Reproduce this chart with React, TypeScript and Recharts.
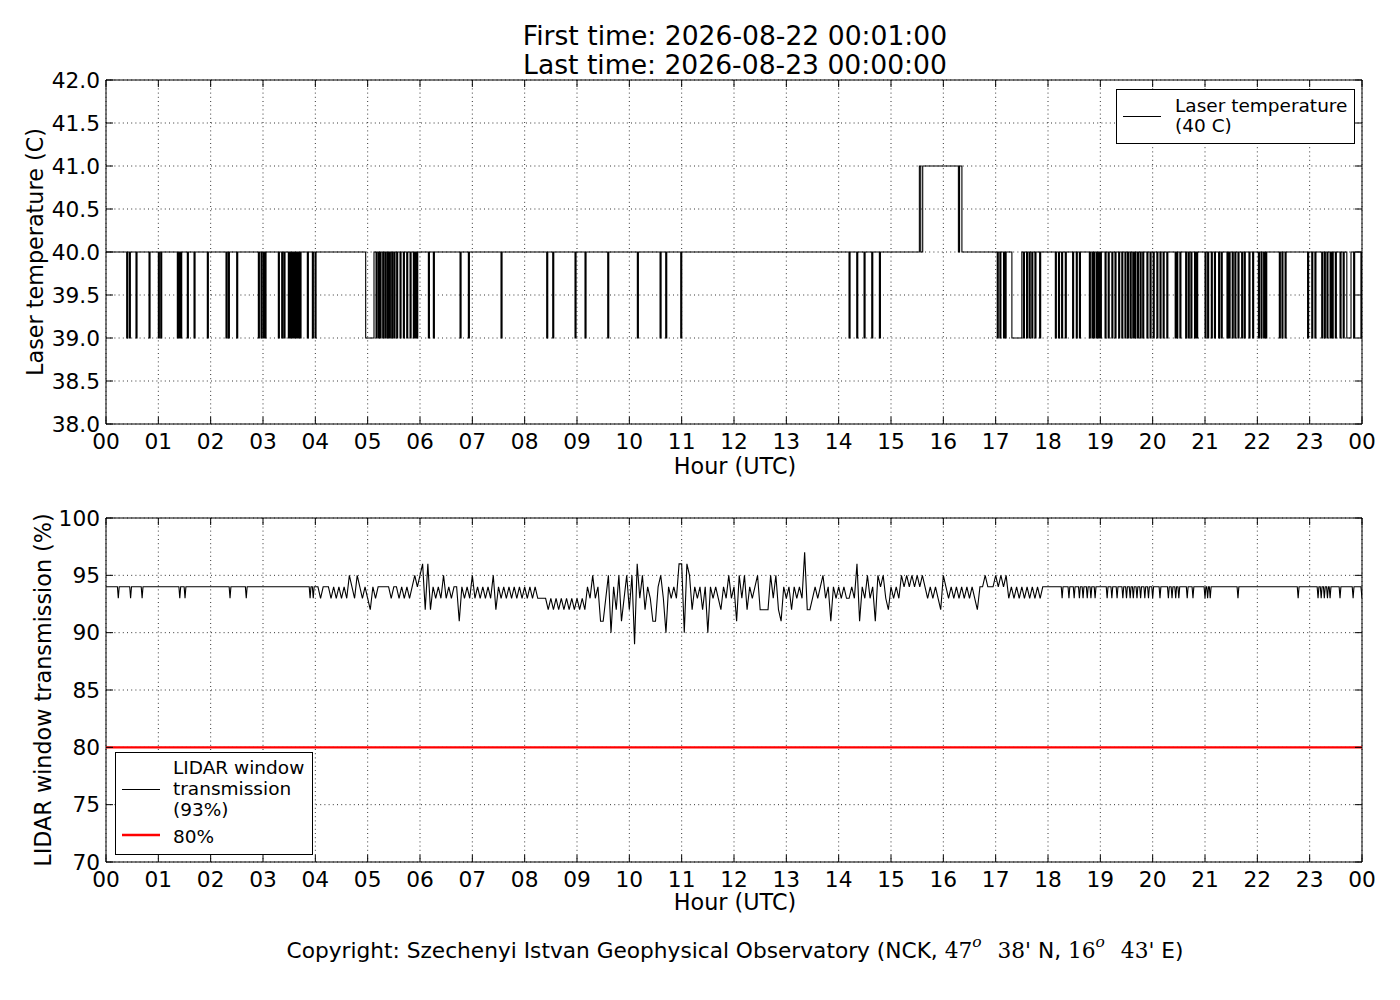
import React from 'react';
import { LineChart, Line, XAxis, YAxis, CartesianGrid, ReferenceArea } from 'recharts';

const FONT = '"DejaVu Sans", Verdana, sans-serif';
const SERIF = '"DejaVu Serif", serif';

// ---------- tick values / labels ----------
const hourTicks = [0, 1, 2, 3, 4, 5, 6, 7, 8, 9, 10, 11, 12, 13, 14, 15, 16, 17, 18, 19, 20, 21, 22, 23, 24];
const hourLabels = ['00', '01', '02', '03', '04', '05', '06', '07', '08', '09', '10', '11', '12', '13', '14', '15', '16', '17', '18', '19', '20', '21', '22', '23', '00'];
const tempTicks = [38, 38.5, 39, 39.5, 40, 40.5, 41, 41.5, 42];
const tempTickLabels = ['38.0', '38.5', '39.0', '39.5', '40.0', '40.5', '41.0', '41.5', '42.0'];
const lidarTicks = [70, 75, 80, 85, 90, 95, 100];
const lidarTickLabels = ['70', '75', '80', '85', '90', '95', '100'];

// ---------- laser temperature (hours UTC) ----------
const tempBase = 40;
const tempLow = 39;
// single-minute drops from 40 to 39 C
const tempDips = [
  0.395, 0.446, 0.573, 0.822, 1.0, 1.045, 1.363, 1.395, 1.427, 1.554, 1.682, 1.936,
  2.293, 2.338, 2.497, 2.911, 2.962, 3.006, 3.038, 3.293, 3.357, 3.401, 3.484, 3.516,
  3.548, 3.58, 3.611, 3.643, 3.675, 3.707, 3.847, 3.943, 3.994,
  5.16, 5.205, 5.236, 5.287, 5.332, 5.376, 5.414, 5.459, 5.503, 5.554, 5.618, 5.682,
  5.746, 5.81, 5.873, 5.905, 5.937, 6.16, 6.255, 6.765, 6.924, 7.548,
  8.421, 8.536, 8.962, 9.153, 9.587, 10.153, 10.587, 10.695, 10.982,
  14.198, 14.345, 14.485, 14.632, 14.778,
  17.03, 17.08, 17.15, 17.18, 17.53, 17.59, 17.64, 17.69, 17.75, 17.84,
  18.14, 18.2, 18.26, 18.33, 18.47, 18.54, 18.6, 18.79, 18.84, 18.87, 18.92, 18.96, 19.0,
  19.09, 19.15, 19.22, 19.28, 19.35, 19.41, 19.47, 19.52, 19.57, 19.62, 19.66, 19.71,
  19.76, 19.81, 19.89, 19.95, 20.01, 20.08, 20.14, 20.2, 20.27, 20.43,
  20.46, 20.52, 20.63, 20.68, 20.73, 20.8, 20.84, 21.0, 21.05, 21.12, 21.18, 21.26, 21.31,
  21.42, 21.46, 21.52, 21.57, 21.63, 21.7, 21.75, 21.84, 21.91, 22.02, 22.07, 22.12, 22.16,
  22.42, 22.47, 22.53, 22.96, 23.04, 23.1, 23.23, 23.28, 23.33, 23.39, 23.43, 23.49,
  23.58, 23.64, 23.84, 23.98,
];
// longer periods at 39 C: [start, end]
const tempLowBlocks = [
  [4.962, 5.121],
  [17.31, 17.5],
  [23.71, 23.79],
];
// excursion to 41 C: [hour, value]
const tempHighSteps = [
  [15.542, 41],
  [15.568, 40],
  [15.606, 41],
  [16.288, 40],
  [16.31, 41],
  [16.355, 40],
];

// ---------- LIDAR window transmission (%) ----------
const lidarBase = 94;
const lidarDipValue = 93;
const lidarEarlyDips = [0.235, 0.47, 0.69, 1.41, 1.51, 2.37, 2.68, 3.9, 3.96];
// 3-minute readings, each list starts at the full hour
const lidarNoise04 = [94, 94, 93, 94, 94, 94, 93, 94, 93, 94, 93, 94, 93, 95, 94, 93, 95, 94, 93, 94];
const lidarNoise05 = [93, 92, 94, 93, 94, 94, 94, 94, 94, 93, 94, 94, 93, 94, 93, 94, 93, 94, 95, 94];
const lidarNoise06 = [95, 96, 92, 96, 92, 94, 93, 94, 93, 95, 93, 94, 93, 94, 94, 91, 94, 93, 94, 93];
const lidarNoise07 = [95, 93, 94, 93, 94, 93, 94, 93, 95, 92, 94, 93, 94, 93, 94, 93, 94, 93, 94, 93];
const lidarNoise08 = [94, 93, 94, 93, 94, 93, 93, 93, 93, 92, 93, 92, 93, 92, 93, 92, 93, 92, 93, 92];
const lidarNoise09 = [93, 92, 93, 92, 94, 93, 95, 93, 94, 91, 91, 93, 95, 90, 94, 92, 95, 91, 93, 95];
const lidarNoise10 = [92, 95, 89, 96, 93, 95, 92, 94, 93, 91, 91, 94, 95, 93, 90, 94, 93, 94, 93, 96];
const lidarNoise11 = [96, 90, 96, 95, 92, 94, 93, 94, 92, 94, 90, 94, 93, 94, 93, 92, 94, 93, 95, 93];
const lidarNoise12 = [94, 91, 95, 93, 95, 92, 94, 93, 94, 95, 92, 92, 92, 92, 95, 93, 95, 92, 91, 94];
const lidarNoise13 = [93, 94, 92, 94, 93, 94, 93, 97, 92, 92, 93, 94, 93, 94, 95, 93, 94, 91, 94, 93];
const lidarNoise14 = [94, 93, 94, 93, 93, 94, 93, 96, 91, 94, 93, 95, 93, 94, 91, 95, 94, 95, 93, 92];
const lidarNoise15 = [94, 93, 94, 93, 95, 94, 95, 94, 95, 94, 95, 94, 95, 94, 93, 94, 93, 94, 93, 92];
const lidarNoise16 = [95, 94, 93, 94, 93, 94, 93, 94, 93, 94, 93, 94, 93, 92, 94, 94, 95, 94, 94, 94];
const lidarNoise17 = [95, 94, 95, 94, 95, 93, 94, 93, 94, 93, 94, 93, 94, 93, 94, 93, 94, 93, 94, 94];
const lidarNoiseHours = [4, 5, 6, 7, 8, 9, 10, 11, 12, 13, 14, 15, 16, 17];
const lidarNoiseLists = [
  lidarNoise04, lidarNoise05, lidarNoise06, lidarNoise07, lidarNoise08, lidarNoise09, lidarNoise10,
  lidarNoise11, lidarNoise12, lidarNoise13, lidarNoise14, lidarNoise15, lidarNoise16, lidarNoise17,
];
const lidarLateDips = [
  18.27, 18.4, 18.5, 18.6, 18.67, 18.75, 18.82, 18.9, 19.13, 19.22, 19.32, 19.43, 19.5, 19.57,
  19.63, 19.7, 19.77, 19.85, 19.92, 20.0, 20.14, 20.3, 20.37, 20.44, 20.5, 20.66, 20.77, 21.0,
  21.05, 21.1, 21.63, 22.78, 23.16, 23.22, 23.28, 23.34, 23.39, 23.58, 23.83,
];
const lidarEndValue = 93;
const thresholdValue = 80;

// ---------- build series ----------
type Pt = { h: number; v: number };

function buildTemp(): Pt[] {
  const pts: Pt[] = [{ h: 0, v: tempBase }];
  tempDips.forEach((t) => {
    pts.push({ h: t, v: tempLow });
    pts.push({ h: t + 0.02, v: tempBase });
  });
  tempLowBlocks.forEach(([s, e]) => {
    pts.push({ h: s, v: tempLow });
    pts.push({ h: e, v: tempBase });
  });
  tempHighSteps.forEach(([h, v]) => pts.push({ h, v }));
  pts.sort((a, b) => a.h - b.h);
  pts.push({ h: 24, v: tempLow });
  return pts;
}

function buildLidar(): Pt[] {
  const pts: Pt[] = [{ h: 0, v: lidarBase }];
  const addDip = (t: number) => {
    pts.push({ h: t - 0.017, v: lidarBase });
    pts.push({ h: t, v: lidarDipValue });
    pts.push({ h: t + 0.017, v: lidarBase });
  };
  lidarEarlyDips.forEach(addDip);
  lidarNoiseLists.forEach((list, k) => {
    list.forEach((v, i) => pts.push({ h: lidarNoiseHours[k] + i * 0.05, v }));
  });
  pts.push({ h: 18.0, v: lidarBase });
  lidarLateDips.forEach(addDip);
  pts.push({ h: 23.98, v: lidarBase });
  pts.push({ h: 24, v: lidarEndValue });
  pts.sort((a, b) => a.h - b.h);
  return pts;
}

const tempData = buildTemp();
const lidarData = buildLidar();
const thresholdData: Pt[] = [
  { h: 0, v: thresholdValue },
  { h: 24, v: thresholdValue },
];

// ---------- layout ----------
const W = 1400;
const Y_AXIS_W = 106;
const X_AXIS_H = 50;
const PLOT_L = 106;
const PLOT_R = 1362;
const TICK_LEN = 7;
const TICK_FS = 21.7;
const LABEL_FS = 22.3;
const LEGEND_FS = 18.5;

const TOP_H = 500;
const TOP_MARGIN = { top: 80, right: W - PLOT_R, bottom: 26, left: 0 };
const TOP_PT = 80;
const TOP_PB = 424;

const BOT_OFFSET = 500;
const BOT_H = 420;
const BOT_MARGIN = { top: 18, right: W - PLOT_R, bottom: 8, left: 0 };
const BOT_PT = 18;
const BOT_PB = 362;

function makeXTick(plotTop: number, plotBottom: number) {
  return (props: any) => {
    const { x, payload } = props;
    const idx = hourTicks.indexOf(payload.value);
    return (
      <g>
        <line x1={x} y1={plotBottom} x2={x} y2={plotBottom - TICK_LEN} stroke="#000" strokeWidth={1} />
        <line x1={x} y1={plotTop} x2={x} y2={plotTop + TICK_LEN} stroke="#000" strokeWidth={1} />
        <text x={x} y={plotBottom + 17} textAnchor="middle" dominantBaseline="central" fontSize={TICK_FS} fontFamily={FONT} fill="#000">
          {hourLabels[idx]}
        </text>
      </g>
    );
  };
}

function makeYTick(ticks: number[], labels: string[]) {
  return (props: any) => {
    const { y, payload } = props;
    const idx = ticks.indexOf(payload.value);
    return (
      <g>
        <line x1={PLOT_L} y1={y} x2={PLOT_L + TICK_LEN} y2={y} stroke="#000" strokeWidth={1} />
        <line x1={PLOT_R - TICK_LEN} y1={y} x2={PLOT_R} y2={y} stroke="#000" strokeWidth={1} />
        <text x={PLOT_L - 6} y={y} textAnchor="end" dominantBaseline="central" fontSize={TICK_FS} fontFamily={FONT} fill="#000">
          {labels[idx]}
        </text>
      </g>
    );
  };
}

const gridProps = { stroke: '#000', strokeWidth: 0.8, strokeDasharray: '1 3.2' };

function TopChart() {
  return (
    <LineChart width={W} height={TOP_H} margin={TOP_MARGIN}>
      <CartesianGrid {...gridProps} />
      <XAxis type="number" dataKey="h" domain={[0, 24]} ticks={hourTicks} interval={0} height={X_AXIS_H}
        axisLine={false} tickLine={false} tickSize={0} tick={makeXTick(TOP_PT, TOP_PB)} allowDataOverflow />
      <YAxis type="number" domain={[38, 42]} ticks={tempTicks} interval={0} width={Y_AXIS_W}
        axisLine={false} tickLine={false} tickSize={0} tick={makeYTick(tempTicks, tempTickLabels)} allowDataOverflow />
      <ReferenceArea x1={0} x2={24} y1={38} y2={42} fill="none" fillOpacity={0} stroke="#000" strokeWidth={1} />
      <Line data={tempData} dataKey="v" type="stepAfter" stroke="#000" strokeWidth={1.1} dot={false}
        activeDot={false} isAnimationActive={false} />
    </LineChart>
  );
}

function BottomChart() {
  return (
    <LineChart width={W} height={BOT_H} margin={BOT_MARGIN}>
      <CartesianGrid {...gridProps} />
      <XAxis type="number" dataKey="h" domain={[0, 24]} ticks={hourTicks} interval={0} height={X_AXIS_H}
        axisLine={false} tickLine={false} tickSize={0} tick={makeXTick(BOT_PT, BOT_PB)} allowDataOverflow />
      <YAxis type="number" domain={[70, 100]} ticks={lidarTicks} interval={0} width={Y_AXIS_W}
        axisLine={false} tickLine={false} tickSize={0} tick={makeYTick(lidarTicks, lidarTickLabels)} allowDataOverflow />
      <ReferenceArea x1={0} x2={24} y1={70} y2={100} fill="none" fillOpacity={0} stroke="#000" strokeWidth={1} />
      <Line data={lidarData} dataKey="v" type="linear" stroke="#000" strokeWidth={1.1} dot={false}
        activeDot={false} isAnimationActive={false} />
      <Line data={thresholdData} dataKey="v" type="linear" stroke="#ff0000" strokeWidth={2.4} dot={false}
        activeDot={false} isAnimationActive={false} />
    </LineChart>
  );
}

function Overlay() {
  const t = { fontFamily: FONT, fill: '#000' } as const;
  return (
    <svg width={W} height={1000} style={{ position: 'absolute', left: 0, top: 0, pointerEvents: 'none' }}>
      <text x={735} y={35} textAnchor="middle" dominantBaseline="central" fontSize={26.6} {...t}>First time: 2026-08-22 00:01:00</text>
      <text x={735} y={64} textAnchor="middle" dominantBaseline="central" fontSize={26.6} {...t}>Last time: 2026-08-23 00:00:00</text>

      <text x={735} y={466} textAnchor="middle" dominantBaseline="central" fontSize={LABEL_FS} {...t}>Hour (UTC)</text>
      <text x={735} y={902} textAnchor="middle" dominantBaseline="central" fontSize={LABEL_FS} {...t}>Hour (UTC)</text>

      <text x={35} y={252} textAnchor="middle" dominantBaseline="central" fontSize={LABEL_FS} transform="rotate(-90 35 252)" {...t}>Laser temperature (C)</text>
      <text x={43} y={690} textAnchor="middle" dominantBaseline="central" fontSize={LABEL_FS} transform="rotate(-90 43 690)" {...t}>LIDAR window transmission (%)</text>

      {/* top legend */}
      <rect x={1116.5} y={89.5} width={238} height={54} fill="#fff" stroke="#000" strokeWidth={1} />
      <line x1={1123} y1={116.5} x2={1161} y2={116.5} stroke="#000" strokeWidth={1} />
      <text x={1175} y={105} dominantBaseline="central" fontSize={LEGEND_FS} {...t}>Laser temperature</text>
      <text x={1175} y={125} dominantBaseline="central" fontSize={LEGEND_FS} {...t}>(40 C)</text>

      {/* bottom legend */}
      <rect x={115.5} y={752.5} width={197} height={102} fill="#fff" stroke="#000" strokeWidth={1} />
      <line x1={122} y1={789.5} x2={160} y2={789.5} stroke="#000" strokeWidth={1} />
      <text x={173} y={767} dominantBaseline="central" fontSize={LEGEND_FS} {...t}>LIDAR window</text>
      <text x={173} y={788} dominantBaseline="central" fontSize={LEGEND_FS} {...t}>transmission</text>
      <text x={173} y={809} dominantBaseline="central" fontSize={LEGEND_FS} {...t}>(93%)</text>
      <line x1={122} y1={835} x2={160} y2={835} stroke="#ff0000" strokeWidth={2.4} />
      <text x={173} y={836} dominantBaseline="central" fontSize={LEGEND_FS} {...t}>80%</text>

      {/* copyright */}
      <text x={735} y={950} textAnchor="middle" dominantBaseline="central" fontSize={21.7} {...t} xmlSpace="preserve">
        <tspan>Copyright: Szechenyi Istvan Geophysical Observatory (NCK, </tspan>
        <tspan fontFamily={SERIF}>47</tspan>
        <tspan fontFamily={SERIF} fontStyle="italic" fontSize={15.5} dy={-8}>o</tspan>
        <tspan dy={8} dx={9}>{' '}</tspan>
        <tspan fontFamily={SERIF}>38'</tspan>
        <tspan> N, </tspan>
        <tspan fontFamily={SERIF}>16</tspan>
        <tspan fontFamily={SERIF} fontStyle="italic" fontSize={15.5} dy={-8}>o</tspan>
        <tspan dy={8} dx={9}>{' '}</tspan>
        <tspan fontFamily={SERIF}>43'</tspan>
        <tspan> E)</tspan>
      </text>
    </svg>
  );
}

export default function App() {
  return (
    <div style={{ position: 'absolute', left: 0, top: 0, width: W, height: 1000, background: '#fff', fontFamily: FONT }}>
      <div style={{ position: 'absolute', left: 0, top: 0 }}>
        <TopChart />
      </div>
      <div style={{ position: 'absolute', left: 0, top: BOT_OFFSET }}>
        <BottomChart />
      </div>
      <Overlay />
    </div>
  );
}
